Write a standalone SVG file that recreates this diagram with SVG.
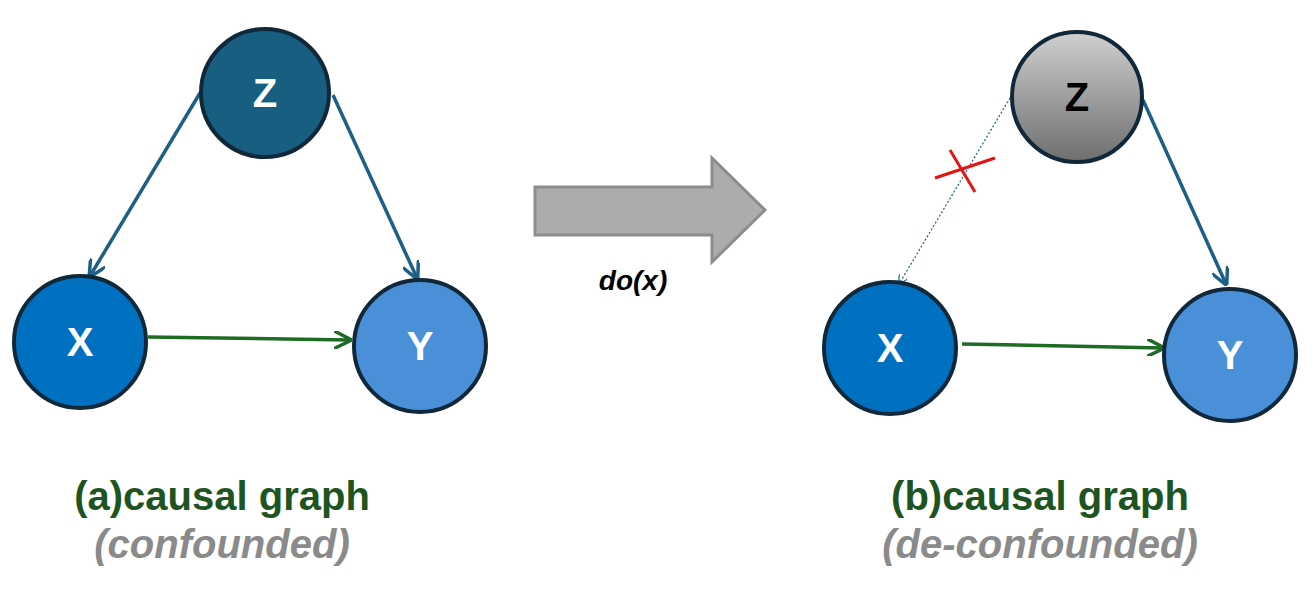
<svg xmlns="http://www.w3.org/2000/svg" width="1313" height="591" viewBox="0 0 1313 591">
<style>
.n{stroke:#10283a;stroke-width:4}
.l{font-family:"Liberation Sans",Arial,sans-serif;font-weight:bold;fill:#fff;font-size:40px;text-anchor:middle}
.e{stroke:#1d5f86;stroke-width:3.5;fill:none;marker-end:url(#ab)}
.g{stroke:#1e6b24;stroke-width:3.5;fill:none;marker-end:url(#ag)}
.t{font-family:"Liberation Sans",Arial,sans-serif;font-weight:bold;font-size:40px;text-anchor:middle;fill:#1d5421}
.s{font-family:"Liberation Sans",Arial,sans-serif;font-weight:bold;font-style:italic;font-size:40px;text-anchor:middle;fill:#8a8a8a}
</style>
<defs>
<marker id="ab" viewBox="0 0 10 10" refX="9" refY="5" markerWidth="5" markerHeight="5" orient="auto"><path d="M0,0L10,5L0,10" fill="none" stroke="#1d5f86" stroke-width="2"/></marker>
<marker id="ag" viewBox="0 0 10 10" refX="9" refY="5" markerWidth="5" markerHeight="5" orient="auto"><path d="M0,0L10,5L0,10" fill="none" stroke="#1e6b24" stroke-width="2"/></marker>
<marker id="ad" viewBox="0 0 10 10" refX="9" refY="5" markerWidth="8" markerHeight="8" orient="auto"><path d="M0,0L10,5L0,10" fill="none" stroke="#1d5f86" stroke-width="1.2"/></marker>
<linearGradient id="gz" x1="0" y1="0" x2="0" y2="1"><stop offset="0" stop-color="#d0d0d0"/><stop offset="1" stop-color="#6e6e6e"/></linearGradient>
</defs>
<g id="connectors">
<line class="e" x1="200" y1="93" x2="90" y2="276"/>
<line class="e" x1="333" y1="95" x2="417" y2="278"/>
<line class="g" x1="148" y1="337" x2="350" y2="340"/>
<line x1="1010" y1="98" x2="899" y2="284" stroke="#1d5f86" stroke-width="1.2" stroke-dasharray="2,2" marker-end="url(#ad)"/>
<line class="e" x1="1143" y1="100" x2="1226" y2="284"/>
<line class="g" x1="962" y1="344" x2="1163" y2="348"/>
<path d="M935,178L995,158M950,150L975,192" stroke="#e31414" stroke-width="3" fill="none"/>
</g>
<g id="Z1"><circle class="n" cx="265" cy="93" r="64" fill="#175e80"/><text class="l" x="265" y="107">Z</text></g>
<g id="X1"><circle class="n" cx="80" cy="342" r="66" fill="#0070c0"/><text class="l" x="80" y="356">X</text></g>
<g id="Y1"><circle class="n" cx="420" cy="346" r="66" fill="#4a90d9"/><text class="l" x="420" y="360">Y</text></g>
<g id="Z2"><circle class="n" cx="1077" cy="97" r="65" fill="url(#gz)"/><text class="l" x="1077" y="111" fill="#000" style="fill:#000">Z</text></g>
<g id="X2"><circle class="n" cx="890" cy="348" r="66" fill="#0070c0"/><text class="l" x="890" y="362">X</text></g>
<g id="Y2"><circle class="n" cx="1230" cy="355" r="66" fill="#4a90d9"/><text class="l" x="1230" y="369">Y</text></g>
<g id="arrow"><path d="M535,187H712V158L765,210L712,262V235H535Z" fill="#acacac" stroke="#8c8c8c" stroke-width="3"/>
<text x="633" y="290" font-family="Liberation Sans,Arial,sans-serif" font-weight="bold" font-style="italic" font-size="28" text-anchor="middle">do(x)</text></g>
<text class="t" x="222" y="510">(a)causal graph</text>
<text class="s" x="222" y="558">(confounded)</text>
<text class="t" x="1040" y="510">(b)causal graph</text>
<text class="s" x="1040" y="558">(de-confounded)</text>
</svg>
